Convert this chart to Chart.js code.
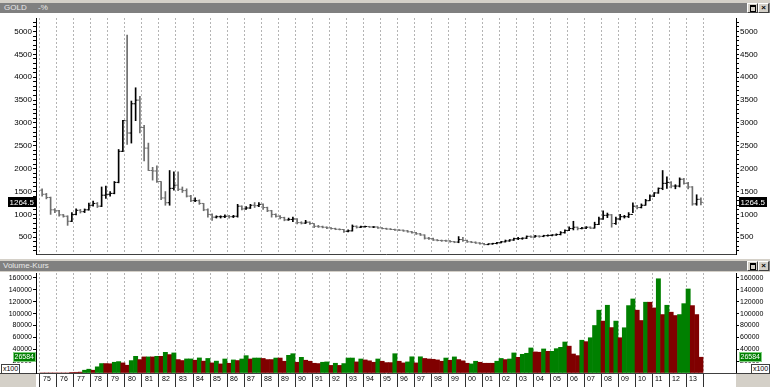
<!DOCTYPE html>
<html>
<head>
<meta charset="utf-8">
<script src="https://cdn.jsdelivr.net/npm/chart.js@4.4.0/dist/chart.umd.min.js"></script>
<style>
  html, body { margin: 0; padding: 0; }
  body { width: 770px; height: 387px; position: relative; overflow: hidden; background: #d4d0c8; font-family: "Liberation Sans", Arial, sans-serif; }
  .hdr { position: absolute; left: 0; width: 770px; height: 10px; background: #808080; color: #e8e8e8; font-size: 8px; line-height: 10px; }
  .hdr span { position: absolute; top: 0; }
  .btn { position: absolute; top: 0; width: 9px; height: 8px; background: #d4d0c8; border-top: 1px solid #fff; border-left: 1px solid #fff; border-right: 1px solid #404040; border-bottom: 1px solid #404040; color: #000; font-size: 8px; line-height: 8px; text-align: center; font-weight: bold; }
  .btn i { position: absolute; left: 2px; top: 1px; width: 4px; height: 4px; border: 1px solid #000; border-top-width: 2px; }
  canvas { position: absolute; left: 0; background: #fff; }
  .box { position: absolute; background: #d4d0c8; }
  .unit { position: absolute; width: 17px; height: 8px; background: #fff; border: 1px solid #404040; font-size: 7px; line-height: 8px; text-align: center; color: #000; }
</style>
</head>
<body>
<div class="hdr" style="top:3px"><span style="left:4px">GOLD</span><span style="left:38px">-%</span>
  <div class="btn" style="left:747px"><i></i></div><div class="btn" style="left:758px">×</div></div>
<canvas id="price" width="770" height="246" style="top:13px"></canvas>
<div class="hdr" style="top:261px"><span style="left:3px">Volume-Kurs</span>
  <div class="btn" style="left:747px"><i></i></div><div class="btn" style="left:758px">×</div></div>
<canvas id="volume" width="770" height="115" style="top:272px"></canvas>
<div class="box" style="left:0;top:373px;width:36px;height:14px;border-top:1px solid #404040"></div>
<div class="box" style="left:736px;top:373px;width:34px;height:14px;border-top:1px solid #404040"></div>
<div class="unit" style="left:1px;top:364px">x100</div>
<div class="unit" style="left:751px;top:364px">x100</div>
<script>
// quarterly bars, 1975 - 2013
const years = [1975, 1976, 1977, 1978, 1979, 1980, 1981, 1982, 1983, 1984, 1985, 1986, 1987,
  1988, 1989, 1990, 1991, 1992, 1993, 1994, 1995, 1996, 1997, 1998, 1999, 2000,
  2001, 2002, 2003, 2004, 2005, 2006, 2007, 2008, 2009, 2010, 2011, 2012, 2013];
const yearLabels = ['75', '76', '77', '78', '79', '80', '81', '82', '83', '84', '85', '86', '87',
  '88', '89', '90', '91', '92', '93', '94', '95', '96', '97', '98', '99', '00',
  '01', '02', '03', '04', '05', '06', '07', '08', '09', '10', '11', '12', '13'];
const quarters = [1, 2, 3, 4];

const priceOpen = [
  1530, 1440, 1370, 1100,  1080, 990, 960, 850,  1000, 1090, 1060, 1100,  1200, 1240, 1180, 1420,
  1440, 1460, 1700, 2380,  3050, 2780, 3420, 3500,  2900, 2450, 1960, 1950,  1720, 1360, 1255, 1570,
  1640, 1550, 1520, 1400,  1300, 1300, 1240, 1100,  1000, 940, 950, 950,  960, 950, 960, 1180,
  1120, 1140, 1200, 1190,  1220, 1150, 1080, 1000,  960, 930, 880, 890,  900, 820, 810, 830,
  800, 740, 730, 720,  705, 690, 675, 670,  630, 640, 740, 720,  730, 735, 725, 725,
  705, 690, 680, 670,  660, 655, 640, 620,  600, 575, 550, 480,  470, 440, 430, 425,
  420, 405, 395, 450,  430, 400, 390, 375,  360, 340, 355, 365,  380, 400, 420, 440,
  470, 470, 480, 520,  505, 525, 520, 535,  540, 550, 560, 600,  650, 690, 720, 690,
  700, 720, 700, 780,  900, 980, 990, 800,  900, 950, 950, 1000,  1180, 1150, 1200, 1300,
  1400, 1470, 1570, 1680,  1700, 1620, 1620, 1770,  1680, 1600, 1230, 1330
];
const priceHigh = [
  1560, 1460, 1380, 1130,  1090, 1000, 970, 1040,  1120, 1110, 1120, 1250,  1290, 1260, 1600, 1620,
  1500, 1720, 2420, 3060,  4920, 3480, 3770, 3580,  2950, 2560, 2030, 2060,  1720, 1500, 1960, 1930,
  1930, 1600, 1560, 1420,  1360, 1320, 1240, 1120,  1010, 970, 970, 990,  980, 980, 1220, 1190,
  1170, 1220, 1260, 1260,  1230, 1160, 1090, 1010,  975, 940, 920, 940,  910, 840, 870, 840,
  800, 760, 745, 730,  710, 700, 685, 675,  660, 770, 750, 745,  745, 740, 735, 730,
  710, 700, 690, 680,  670, 660, 650, 630,  610, 585, 555, 500,  480, 450, 440, 440,
  425, 410, 515, 500,  440, 410, 400, 385,  365, 360, 370, 390,  410, 440, 450, 480,
  500, 490, 530, 530,  540, 535, 545, 555,  560, 575, 625, 660,  730, 850, 725, 715,
  735, 730, 830, 940,  1080, 1030, 1000, 940,  1000, 980, 1040, 1255,  1200, 1230, 1330, 1430,
  1480, 1580, 1960, 1820,  1720, 1650, 1800, 1790,  1700, 1610, 1430, 1360
];
const priceLow = [
  1400, 1340, 1000, 1040,  960, 940, 760, 840,  990, 1030, 1040, 1090,  1180, 1150, 1170, 1350,
  1400, 1450, 1690, 2370,  2530, 2560, 3050, 2780,  2170, 1960, 1750, 1700,  1320, 1200, 1200, 1530,
  1520, 1480, 1380, 1280,  1280, 1220, 1080, 940,  870, 920, 920, 930,  920, 930, 940, 1100,
  1110, 1130, 1150, 1170,  1110, 1060, 940, 940,  900, 860, 870, 840,  790, 790, 800, 780,
  710, 715, 705, 690,  675, 665, 660, 605,  615, 635, 700, 710,  720, 715, 710, 695,
  680, 672, 665, 650,  645, 630, 610, 590,  560, 540, 460, 455,  430, 420, 410, 410,
  395, 380, 380, 410,  390, 380, 365, 350,  330, 335, 345, 355,  375, 395, 410, 430,
  450, 455, 470, 495,  500, 500, 510, 525,  530, 540, 550, 590,  645, 660, 660, 680,
  690, 690, 700, 775,  890, 930, 720, 780,  880, 920, 930, 1040,  1120, 1140, 1200, 1300,
  1390, 1460, 1540, 1570,  1580, 1560, 1600, 1660,  1560, 1200, 1200, 1210
];
const priceClose = [
  1440, 1370, 1100, 1080,  990, 960, 850, 1000,  1090, 1060, 1100, 1200,  1240, 1180, 1420, 1440,
  1460, 1700, 2380, 3050,  2780, 3420, 3500, 2900,  2450, 1960, 1950, 1720,  1360, 1255, 1570, 1640,
  1550, 1520, 1400, 1300,  1300, 1240, 1100, 1000,  940, 950, 950, 960,  950, 960, 1180, 1120,
  1140, 1200, 1190, 1220,  1150, 1080, 1000, 960,  930, 880, 890, 900,  820, 810, 830, 800,
  740, 730, 720, 705,  690, 675, 670, 630,  640, 740, 720, 730,  735, 725, 725, 705,
  690, 680, 670, 660,  655, 640, 620, 600,  575, 550, 480, 470,  440, 430, 425, 420,
  405, 395, 450, 430,  400, 390, 375, 360,  340, 355, 365, 380,  400, 420, 440, 470,
  470, 480, 520, 505,  525, 520, 535, 540,  550, 560, 600, 650,  690, 720, 690, 700,
  720, 700, 780, 900,  980, 990, 800, 900,  950, 950, 1000, 1180,  1150, 1200, 1300, 1400,
  1470, 1570, 1680, 1700,  1620, 1620, 1770, 1680,  1600, 1230, 1330, 1264.5
];

// volume in units of 100
const volume = [
  0, 0, 0, 0,  0, 0, 0, 1000,  1200, 1500, 4700, 6400,  4700, 10400, 15900, 15900,
  15600, 18100, 19200, 17000,  13100, 20900, 28100, 22600,  27100, 27100, 27100, 28100,  28100, 34800, 31000, 33800,
  22600, 21000, 23700, 23700,  21500, 25400, 20000, 24500,  17000, 20000, 15300, 23600,  16400, 22000, 21000, 23600,
  29200, 23600, 25200, 25200,  24500, 22600, 22600, 25200,  25200, 19800, 29800, 32500,  18100, 26400, 21500, 19800,
  16400, 15900, 18100, 18700,  12800, 16400, 12800, 15900,  25200, 25200, 18700, 23600,  22000, 20500, 18100, 23600,
  19800, 17500, 17500, 32500,  19800, 17000, 18700, 27300,  17000, 27300, 24500, 23600,  23100, 22000, 19800, 25200,
  21500, 27100, 22600, 20500,  16400, 15300, 19800, 18100,  16400, 16400, 16400, 19800,  24500, 22600, 23600, 33800,
  26400, 31500, 33200, 42200,  35500, 35000, 40500, 36500,  36500, 41000, 43200, 52200,  45200, 32000, 29300, 55200,
  52800, 59400, 80000, 105800,  87400, 114100, 76500, 87400,  59400, 76200, 113500, 124700,  105800, 88400, 119200, 119200,
  109600, 158700, 98400, 114100,  102400, 96800, 98400, 116800,  141500, 113500, 98400, 26584
];
// u = green bar, d = dark red bar, one string per year
const volumeDir = ['dddd', 'dddd', 'dduu', 'duud', 'duud', 'duud', 'dudu', 'dudu', 'dduu', 'dudu',
  'dudu', 'dudu', 'uduu', 'dddu', 'dduu', 'dudd', 'dduu', 'dudu', 'uudu', 'dddu',
  'dddu', 'dduu', 'dudd', 'dddu', 'dudd', 'duud', 'dddu', 'uduu', 'duuu', 'ddud',
  'uuuu', 'dddu', 'duuu', 'dudu', 'duuu', 'ddud', 'dudu', 'dduu', 'uddd'];

const priceLabels = [500, 1000, 1500, 2000, 2500, 3000, 3500, 4000, 4500, 5000];
const volumeLabels = [20000, 40000, 60000, 80000, 100000, 120000, 140000, 160000];

// centre of each quarter on the time axis
const quarterX = [];
years.forEach(y => quarters.forEach(q => quarterX.push(y + (q - 0.5) / 4)));
const dirs = volumeDir.join('').split('');

const fontFamily = '"Liberation Sans Narrow", "Liberation Sans", Arial';
const tickFont = { family: fontFamily, size: 8 };
const smallFont = { family: fontFamily, size: 7 };

// boxed last value on both value axes
const lastValueTag = {
  id: 'lastValueTag',
  afterDraw(chart, args, opts) {
    const ctx = chart.ctx;
    ['y', 'y2'].forEach(id => {
      const s = chart.scales[id];
      const py = Math.round(s.getPixelForValue(opts.value));
      ctx.save();
      ctx.font = opts.size + 'px ' + fontFamily;
      const w = Math.ceil(ctx.measureText(opts.text).width) + 3;
      const x = s.position === 'left' ? Math.round(s.right) - w : Math.round(s.left) + 3;
      ctx.fillStyle = opts.bg;
      ctx.fillRect(x, py - 5, w, 10);
      if (opts.edge) {
        ctx.strokeStyle = opts.edge;
        ctx.strokeRect(x + 0.5, py - 4.5, w - 1, 9);
      }
      ctx.fillStyle = opts.fg;
      ctx.textBaseline = 'middle';
      ctx.fillText(opts.text, x + 1.5, py + 0.5);
      ctx.restore();
    });
  }
};

const inYears = v => v >= 1975 && v <= 2014;

function timeAxis(withLabels) {
  return {
    type: 'linear', min: 1974.765, max: 2015.94, offset: false,
    afterFit: s => { s.height = withLabels ? 14 : 0; s.paddingLeft = 0; s.paddingRight = 0; },
    ticks: {
      display: withLabels, stepSize: 1, includeBounds: false, autoSkip: false, maxRotation: 0,
      align: 'start', labelOffset: 3, padding: -12, color: '#000', font: smallFont,
      callback: v => { const i = years.indexOf(v); return i >= 0 ? yearLabels[i] : ''; }
    },
    grid: {
      offset: false, drawTicks: withLabels, tickLength: 14, tickWidth: 1,
      color: c => (c.tick && inYears(c.tick.value)) ? '#b4b4b4' : 'rgba(0,0,0,0)',
      tickColor: c => (c.tick && inYears(c.tick.value)) ? '#303030' : 'rgba(0,0,0,0)'
    },
    border: { display: true, color: '#404040', dash: [2, 2] }
  };
}

// min left undefined for the volume axes: with both bounds set Chart.js splits the range evenly
function valueAxis(position, min, max, step, labels, width, font) {
  return {
    type: 'linear', position, min, max, beginAtZero: min === undefined,
    afterDataLimits: s => { if (min === undefined) s.min = 0; },
    afterFit: s => { s.width = width; s.paddingTop = 0; s.paddingBottom = 0; },
    ticks: {
      stepSize: step, includeBounds: false, autoSkip: false, padding: 1, color: '#000', font,
      callback: v => labels.includes(v) ? String(v) : ''
    },
    grid: { drawOnChartArea: false, tickLength: 3, tickColor: '#000' },
    border: { display: true, color: '#000' }
  };
}

const barColor = priceClose.map((c, i) => c >= priceOpen[i] ? '#000000' : '#6e6e6e');

new Chart(document.getElementById('price'), {
  type: 'bar',
  data: {
    datasets: [{
      type: 'bar',
      data: quarterX.map((x, i) => ({ x, y: [priceLow[i], priceHigh[i]] })),
      backgroundColor: barColor, barThickness: 1, borderWidth: 0
    }, {
      type: 'line', showLine: false,
      data: quarterX.map((x, i) => ({ x, y: priceOpen[i] })),
      pointStyle: 'dash', pointRotation: 180, pointRadius: 2, pointBorderWidth: 1,
      pointBorderColor: barColor, pointBackgroundColor: barColor
    }, {
      type: 'line', showLine: false,
      data: quarterX.map((x, i) => ({ x, y: priceClose[i] })),
      pointStyle: 'dash', pointRotation: 0, pointRadius: 2, pointBorderWidth: 1,
      pointBorderColor: barColor, pointBackgroundColor: barColor
    }]
  },
  options: {
    responsive: false, animation: false, events: [],
    layout: { padding: { top: 1, bottom: 1 } },
    plugins: {
      legend: { display: false }, tooltip: { enabled: false },
      lastValueTag: { value: 1264.5, text: '1264.5', bg: '#000', fg: '#fff', size: 8 }
    },
    scales: {
      x: timeAxis(false),
      y: valueAxis('left', 134, 5296, 100, priceLabels, 36, tickFont),
      y2: valueAxis('right', 134, 5296, 100, priceLabels, 34, tickFont)
    }
  },
  plugins: [lastValueTag]
});

new Chart(document.getElementById('volume'), {
  type: 'bar',
  data: {
    datasets: [{
      data: quarterX.map((x, i) => ({ x, y: volume[i] })),
      backgroundColor: dirs.map(d => d === 'u' ? '#008000' : '#800000'),
      barPercentage: 1, categoryPercentage: 1, borderWidth: 0
    }]
  },
  options: {
    responsive: false, animation: false, events: [],
    layout: { padding: { top: 1 } },
    plugins: {
      legend: { display: false }, tooltip: { enabled: false },
      lastValueTag: { value: 26584, text: '26584', bg: '#008000', fg: '#fff', edge: '#7fd07f', size: 7 }
    },
    scales: {
      x: timeAxis(true),
      y: valueAxis('left', undefined, 168400, 20000, volumeLabels, 36, smallFont),
      y2: valueAxis('right', undefined, 168400, 20000, volumeLabels, 34, smallFont)
    }
  },
  plugins: [lastValueTag]
});
</script>
</body>
</html>
